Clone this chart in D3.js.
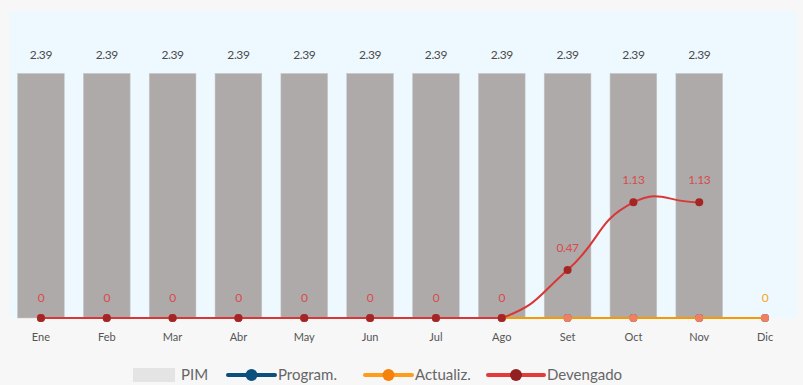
<!DOCTYPE html>
<html>
<head>
<script src="https://d3js.org/d3.v7.min.js"></script>
<style>
  body { margin: 0; background: #f7f7f7; font-family: Lato, "Open Sans", sans-serif; }
  .lbl { font-size: 12px; text-anchor: middle; letter-spacing: -0.4px; }
  .axis text { font-size: 11px; fill: #555; font-family: Lato, sans-serif; }
  .axis path, .axis line { display: none; }
  .leg { font-size: 15px; fill: #666; }
</style>
</head>
<body>
<div id="chart"></div>
<script>
const months = ["Ene","Feb","Mar","Abr","May","Jun","Jul","Ago","Set","Oct","Nov","Dic"];
const pim = [2.39,2.39,2.39,2.39,2.39,2.39,2.39,2.39,2.39,2.39,2.39,null];
const program = [0,0,0,0,0,0,0,0,0,0,0,0];
const actualiz = [0,0,0,0,0,0,0,0,0,0,0,0];
const devengado = [0,0,0,0,0,0,0,0,0.47,1.13,1.13,null];

const W = 803, H = 385;
const plot = {left: 9, right: 797, top: 11, bottom: 318};

const svg = d3.select("#chart").append("svg").attr("width", W).attr("height", H);

svg.append("rect")
  .attr("x", plot.left).attr("y", plot.top)
  .attr("width", plot.right - plot.left).attr("height", plot.bottom - plot.top)
  .attr("fill", "#eef8ff");

const x = d3.scaleBand().domain(months).range([plot.left, plot.right]).paddingInner(0.29).paddingOuter(0.13);
const cx = d => x(d) + x.bandwidth() / 2;
const y = d3.scaleLinear().domain([0, 3]).range([plot.bottom, plot.top]);

// bars
const barData = months.map((m, i) => ({m, v: pim[i]})).filter(d => d.v != null);
svg.selectAll(".bar").data(barData).enter().append("rect")
  .attr("x", d => x(d.m)).attr("width", x.bandwidth())
  .attr("y", d => y(d.v)).attr("height", d => y(0) - y(d.v))
  .attr("fill", "#aeaaaa").attr("stroke", "#c8c8c8").attr("stroke-width", 0.5);
svg.selectAll(".pimlbl").data(barData).enter().append("text")
  .attr("class", "lbl").attr("x", d => cx(d.m)).attr("y", d => y(d.v) - 14)
  .attr("fill", "#4a4a4a").text(d => d.v.toFixed(2));

// x axis
svg.append("g").attr("class", "axis")
  .attr("transform", `translate(0,${plot.bottom + 7})`)
  .call(d3.axisBottom(x).tickSize(0).tickPadding(8));

// smooth bezier path, control points kept inside the value range (no dip below 0)
function smoothPath(pts, smooth) {
  const yMax = y(0);
  let d = `M${pts[0][0]},${pts[0][1]}`;
  const cps = pts.map((p, i) => {
    const prev = pts[i - 1] || p, next = pts[i + 1] || p;
    const vx = (next[0] - prev[0]) * smooth, vy = (next[1] - prev[1]) * smooth;
    let d0 = Math.hypot(p[0] - prev[0], p[1] - prev[1]);
    let d1 = Math.hypot(p[0] - next[0], p[1] - next[1]);
    const s = d0 + d1 || 1;
    d0 /= s; d1 /= s;
    return [[p[0] - vx * d0, Math.min(yMax, p[1] - vy * d0)],
            [p[0] + vx * d1, Math.min(yMax, p[1] + vy * d1)]];
  });
  for (let i = 1; i < pts.length; i++) {
    const a = cps[i - 1][1], b = cps[i][0];
    d += `C${a[0]},${a[1]},${b[0]},${b[1]},${pts[i][0]},${pts[i][1]}`;
  }
  return d;
}

function series(vals, color, ptColor, r) {
  const data = months.map((m, i) => ({m, v: vals[i]})).filter(d => d.v != null);
  const pts = data.map(d => [cx(d.m), y(d.v)]);
  svg.append("path").attr("d", smoothPath(pts, 0.5))
    .attr("fill", "none").attr("stroke", color).attr("stroke-width", 2);
  svg.selectAll(null).data(data).enter().append("circle")
    .attr("cx", d => cx(d.m)).attr("cy", d => y(d.v)).attr("r", r).attr("fill", ptColor);
  return data;
}

series(program, "#0b4f7c", "#0b4f7c", 4);
const act = series(actualiz, "#f59a00", "#f28060", 4);
const dev = series(devengado, "#d93636", "#a52525", 4);

// labels
svg.selectAll(".devlbl").data(dev).enter().append("text")
  .attr("class", "lbl").attr("x", d => cx(d.m)).attr("y", d => y(d.v) - (d.v > 0 ? 18 : 16))
  .attr("fill", "#d94a4a").text(d => d3.format("~g")(d.v));
svg.selectAll(".actlbl").data(act.filter(d => devengado[months.indexOf(d.m)] == null)).enter().append("text")
  .attr("class", "lbl").attr("x", d => cx(d.m)).attr("y", d => y(d.v) - 16)
  .attr("fill", "#f5a623").text(d => d3.format("~g")(d.v));

// legend
const leg = svg.append("g").attr("transform", "translate(0,375)");
leg.append("rect").attr("x", 133).attr("y", -7).attr("width", 42).attr("height", 14).attr("fill", "#e4e4e4");
leg.append("text").attr("class", "leg").attr("x", 181).attr("y", 5).text("PIM");
const items = [
  {x: 228, w: 47, c: "#0b4f7c", p: "#0b4f7c", t: "Program."},
  {x: 365, w: 47, c: "#ff9c1a", p: "#f5820a", t: "Actualiz."},
  {x: 488, w: 56, c: "#e53a3a", p: "#922020", t: "Devengado"}
];
items.forEach(it => {
  leg.append("line").attr("x1", it.x).attr("x2", it.x + it.w).attr("y1", 0).attr("y2", 0)
    .attr("stroke", it.c).attr("stroke-width", 4).attr("stroke-linecap", "round");
  leg.append("circle").attr("cx", it.x + it.w / 2).attr("cy", 0).attr("r", 6).attr("fill", it.p);
  leg.append("text").attr("class", "leg").attr("x", it.x + it.w + 3).attr("y", 5).text(it.t);
});
</script>
</body>
</html>
